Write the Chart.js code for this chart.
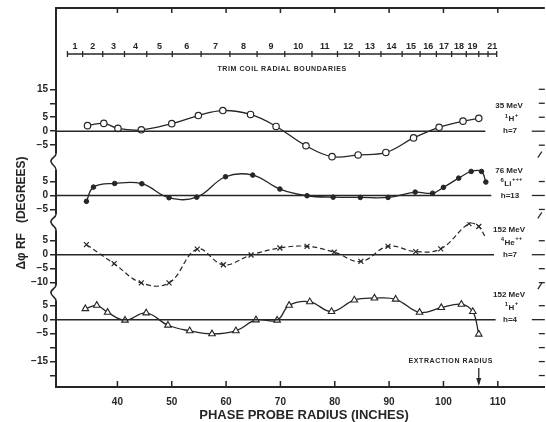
<!DOCTYPE html>
<html>
<head>
<meta charset="utf-8">
<script src="https://cdn.jsdelivr.net/npm/chart.js@4.4.1/dist/chart.umd.min.js"></script>
<style>
  html, body { margin: 0; padding: 0; background: #fff; overflow: hidden; }
  #wrap { position: relative; width: 550px; height: 422px; }
</style>
</head>
<body>
<div id="wrap"><canvas id="chart"></canvas></div>
<script>
// phase probe radius, inches
const xRange = [28.7, 118.65];
const xTicks = [40, 50, 60, 70, 80, 90, 100, 110];

// 35 MeV 1H+ h=7
const h35X = [34.5, 37.5, 40.1, 44.4, 50.0, 54.9, 59.4, 64.5, 69.2, 74.7, 79.5, 84.3, 89.4, 94.5, 99.2, 103.6, 106.5];
const h35Y = [2.0, 2.8, 1.0, 0.5, 2.7, 5.6, 7.4, 6.0, 1.7, -5.2, -9.1, -8.5, -7.6, -2.4, 1.4, 3.6, 4.6];
// 76 MeV 6Li+++ h=13
const li76X = [34.3, 35.6, 39.5, 44.5, 49.5, 54.6, 59.9, 64.9, 69.9, 74.9, 79.7, 84.7, 89.8, 94.8, 98.0, 100.0, 102.8, 105.1, 107.0, 107.8];
const li76Y = [-2.1, 3.0, 4.3, 4.2, -0.8, -0.6, 6.7, 7.3, 2.3, -0.1, -0.6, -0.7, -0.7, 1.2, 0.8, 2.9, 6.2, 8.6, 8.6, 4.8];
// 152 MeV 4He++ h=7 (last point is the end of the dashed curve, no marker)
const he152X = [34.3, 39.4, 44.4, 49.5, 54.7, 59.5, 64.6, 69.9, 74.9, 79.9, 84.8, 89.8, 94.9, 99.5, 104.7, 106.5, 107.6];
const he152Y = [3.6, -3.2, -10.1, -10.1, 2.0, -3.6, -0.1, 2.4, 3.0, 0.9, -2.4, 3.0, 1.1, 2.1, 11.1, 10.1, 6.7];
// 152 MeV 1H+ h=4
const h152X = [34.1, 36.2, 38.2, 41.4, 45.3, 49.3, 53.3, 57.4, 61.8, 65.5, 69.4, 71.6, 75.4, 79.4, 83.6, 87.3, 91.2, 95.6, 99.6, 103.3, 105.4, 106.5];
const h152Y = [3.9, 5.1, 2.6, -0.2, 2.4, -2.0, -4.0, -5.1, -4.0, -0.1, -0.2, 5.1, 6.4, 2.9, 7.0, 7.7, 7.3, 2.6, 4.3, 5.5, 2.9, -5.2];

// panels, top to bottom
const panelMin = [-10.9, -9.6, -13.75, -24.1];
const panelMax = [44.1, 12.1, 11.6, 9.5];
const panelTicks = [[15, 10, 5, 0, -5], [5, 0, -5], [5, 0, -5, -10], [5, 0, -5, -10, -15, -20]];
const panelLabels = [[15, 5, 0, -5], [5, 0, -5], [5, 0, -5, -10], [5, 0, -5, -15]];
const zeroEnd = [107.7, 108.8, 109.3, 109.6];
const energyText = ['35 MeV', '76 MeV', '152 MeV', '152 MeV'];
const ionMass = ['1', '6', '4', '1'];
const ionSym = ['H', 'Li', 'He', 'H'];
const ionCharge = ['+', '+++', '++', '+'];
const harmText = ['h=7', 'h=13', 'h=7', 'h=4'];

// trim coil radial boundaries, inches
const trimBounds = [30.8, 33.6, 37.3, 41.3, 45.4, 50.1, 55.4, 60.7, 65.7, 70.8, 75.8, 80.5, 84.5, 88.5, 92.4, 95.7, 98.7, 101.5, 104.2, 106.5, 108.2, 109.8];
const trimLabels = ['1', '2', '3', '4', '5', '6', '7', '8', '9', '10', '11', '12', '13', '14', '15', '16', '17', '18', '19', '', '21'];
const extractionRadius = 106.5;

const ink = '#262626';
const axisIds = ['yA', 'yB', 'yC', 'yD'];
const fontFam = "'Liberation Sans', Arial, sans-serif";

function fmt(v) {
  return v < 0 ? '\u2212' + Math.abs(v) : String(v);
}

function yAxis(k) {
  return {
    type: 'linear',
    position: 'left',
    stack: 'panels',
    stackWeight: panelMax[k] - panelMin[k],
    min: panelMin[k],
    max: panelMax[k],
    afterBuildTicks: s => { s.ticks = panelTicks[k].map(v => ({ value: v })); },
    afterFit: s => { s.width = 56; },
    grid: { drawOnChartArea: false, tickLength: 6, color: ink, lineWidth: 1.5 },
    border: { display: false },
    ticks: {
      autoSkip: false,
      padding: 2,
      color: ink,
      font: { family: fontFam, size: 10, weight: 'bold' },
      callback: v => panelLabels[k].includes(v) ? fmt(v) : ''
    }
  };
}

function pts(xs, ys) {
  return xs.map((x, i) => ({ x: x, y: ys[i] }));
}

function zeroLine(k) {
  return {
    type: 'line',
    yAxisID: axisIds[k],
    data: [{ x: xRange[0], y: 0 }, { x: zeroEnd[k], y: 0 }],
    borderColor: ink,
    borderWidth: 1.5,
    pointRadius: 0,
    tension: 0
  };
}

const panelPlugin = {
  id: 'panelDecor',
  afterDraw(chart) {
    const ctx = chart.ctx;
    const area = chart.chartArea;
    const xs = chart.scales.x;
    ctx.save();
    ctx.strokeStyle = ink;
    ctx.fillStyle = ink;
    ctx.lineCap = 'butt';

    // top frame and inward ticks
    ctx.lineWidth = 2;
    ctx.beginPath();
    ctx.moveTo(area.left - 1, area.top);
    ctx.lineTo(area.right, area.top);
    ctx.stroke();
    ctx.lineWidth = 1.5;
    xTicks.forEach(v => {
      const px = xs.getPixelForValue(v);
      ctx.beginPath();
      ctx.moveTo(px, area.top);
      ctx.lineTo(px, area.top + 5);
      ctx.moveTo(px, area.bottom);
      ctx.lineTo(px, area.bottom - 6);
      ctx.stroke();
    });

    // left axis segments with breaks, right edge ticks
    axisIds.forEach((id, k) => {
      const s = chart.scales[id];
      const y0 = k === 0 ? area.top : s.top + 8;
      const y1 = k === 3 ? area.bottom : s.bottom - 8;
      ctx.lineWidth = 2;
      ctx.beginPath();
      ctx.moveTo(area.left, y0 - (k === 0 ? 1 : 0));
      ctx.lineTo(area.left, y1);
      ctx.stroke();
      if (k < 3) {
        const a = s.bottom - 8, b = s.bottom + 8, m = s.bottom;
        ctx.lineWidth = 1.6;
        ctx.beginPath();
        ctx.moveTo(area.left, a);
        ctx.bezierCurveTo(area.left, a + 4, area.left - 6, m - 4, area.left - 5, m);
        ctx.bezierCurveTo(area.left - 4, m + 4, area.left, b - 4, area.left, b);
        ctx.stroke();
        ctx.lineWidth = 1.2;
        ctx.beginPath();
        ctx.moveTo(area.right - 7, m - 4);
        ctx.lineTo(area.right - 3, m - 10);
        ctx.stroke();
      }
      ctx.lineWidth = 1.3;
      panelTicks[k].forEach(v => {
        const py = s.getPixelForValue(v);
        ctx.beginPath();
        ctx.moveTo(area.right - (v === 0 ? 13 : 6), py);
        ctx.lineTo(area.right, py);
        ctx.stroke();
      });

      // run labels at right
      const z = s.getPixelForValue(0);
      const cx = 509;
      ctx.textAlign = 'center';
      ctx.textBaseline = 'middle';
      ctx.font = 'bold 8px ' + fontFam;
      ctx.fillText(energyText[k], cx, z - 25);
      ctx.fillText(harmText[k], cx + 1, z);
      // ion with superscripts
      const big = 'bold 8px ' + fontFam, small = 'bold 6px ' + fontFam;
      ctx.font = small;
      const wm = ctx.measureText(ionMass[k]).width;
      const wc = ctx.measureText(ionCharge[k]).width;
      ctx.font = big;
      const ws = ctx.measureText(ionSym[k]).width;
      let ix = cx + 2 - (wm + ws + wc) / 2;
      ctx.textAlign = 'left';
      ctx.font = small;
      ctx.fillText(ionMass[k], ix, z - 15);
      ix += wm + 0.5;
      ctx.font = big;
      ctx.fillText(ionSym[k], ix, z - 12);
      ix += ws + 0.5;
      ctx.font = small;
      ctx.fillText(ionCharge[k], ix, z - 16);
    });

    // trim coil boundaries scale
    const ty = 54;
    ctx.lineWidth = 1.3;
    ctx.beginPath();
    ctx.moveTo(xs.getPixelForValue(trimBounds[0]), ty);
    ctx.lineTo(xs.getPixelForValue(trimBounds[trimBounds.length - 1]), ty);
    ctx.stroke();
    trimBounds.forEach(v => {
      const px = xs.getPixelForValue(v);
      ctx.beginPath();
      ctx.moveTo(px, ty - 3);
      ctx.lineTo(px, ty + 3);
      ctx.stroke();
    });
    ctx.textAlign = 'center';
    ctx.textBaseline = 'middle';
    ctx.font = 'bold 9px ' + fontFam;
    trimLabels.forEach((t, i) => {
      const px = (xs.getPixelForValue(trimBounds[i]) + xs.getPixelForValue(trimBounds[i + 1])) / 2;
      ctx.fillText(t, px, ty - 7);
    });
    ctx.font = 'bold 7px ' + fontFam;
    if ('letterSpacing' in ctx) ctx.letterSpacing = '0.6px';
    ctx.fillText('TRIM COIL RADIAL BOUNDARIES', xs.getPixelForValue(70.3), 69);

    // extraction radius marker
    const ex = xs.getPixelForValue(extractionRadius);
    ctx.fillText('EXTRACTION RADIUS', ex - 28, 361);
    if ('letterSpacing' in ctx) ctx.letterSpacing = '0px';
    ctx.lineWidth = 1.3;
    ctx.beginPath();
    ctx.moveTo(ex, 368);
    ctx.lineTo(ex, 384);
    ctx.stroke();
    ctx.beginPath();
    ctx.moveTo(ex - 2.5, 378);
    ctx.lineTo(ex + 2.5, 378);
    ctx.lineTo(ex, 386);
    ctx.closePath();
    ctx.fill();

    // axis titles
    ctx.font = 'bold 13px ' + fontFam;
    ctx.fillText('PHASE PROBE RADIUS (INCHES)', 304, 415);
    ctx.save();
    ctx.translate(22, 213);
    ctx.rotate(-Math.PI / 2);
    ctx.font = 'bold 12px ' + fontFam;
    ctx.fillText('\u0394\u03c6 RF   (DEGREES)', 0, 0);
    ctx.restore();

    ctx.restore();
  }
};

new Chart(document.getElementById('chart'), {
  type: 'line',
  data: {
    datasets: [
      zeroLine(0), zeroLine(1), zeroLine(2), zeroLine(3),
      {
        label: '35 MeV',
        yAxisID: 'yA',
        data: pts(h35X, h35Y),
        borderColor: ink,
        borderWidth: 1.3,
        tension: 0.4,
        pointStyle: 'circle',
        pointRadius: 3.2,
        pointBackgroundColor: '#fff',
        pointBorderColor: ink,
        pointBorderWidth: 1.2
      },
      {
        label: '76 MeV',
        yAxisID: 'yB',
        data: pts(li76X, li76Y),
        borderColor: ink,
        borderWidth: 1.3,
        tension: 0.4,
        pointStyle: 'circle',
        pointRadius: 2.3,
        pointBackgroundColor: ink,
        pointBorderColor: ink,
        pointBorderWidth: 1
      },
      {
        label: '152 MeV He',
        yAxisID: 'yC',
        data: pts(he152X, he152Y),
        borderColor: ink,
        borderWidth: 1.2,
        borderDash: [5, 3],
        tension: 0.4,
        pointStyle: 'crossRot',
        pointRadius: ctx => ctx.dataIndex === he152X.length - 1 ? 0 : 3.5,
        pointBorderColor: ink,
        pointBorderWidth: 1.2
      },
      {
        label: '152 MeV H',
        yAxisID: 'yD',
        data: pts(h152X, h152Y),
        borderColor: ink,
        borderWidth: 1.3,
        tension: 0.4,
        pointStyle: 'triangle',
        pointRadius: 3.8,
        pointBackgroundColor: '#fff',
        pointBorderColor: ink,
        pointBorderWidth: 1.1
      }
    ]
  },
  options: {
    responsive: true,
    maintainAspectRatio: false,
    animation: false,
    layout: { padding: { top: 7, right: 2, left: 0, bottom: 0 } },
    plugins: {
      legend: { display: false },
      tooltip: { enabled: false }
    },
    scales: {
      x: {
        type: 'linear',
        min: xRange[0],
        max: xRange[1],
        afterBuildTicks: s => { s.ticks = xTicks.map(v => ({ value: v })); },
        afterFit: s => { s.height = 35; },
        grid: { display: false },
        border: { display: true, color: ink, width: 2 },
        ticks: {
          autoSkip: false,
          padding: 1,
          color: ink,
          maxRotation: 0,
          font: { family: fontFam, size: 10, weight: 'bold' }
        }
      },
      yD: yAxis(3),
      yC: yAxis(2),
      yB: yAxis(1),
      yA: yAxis(0)
    }
  },
  plugins: [panelPlugin]
});
</script>
</body>
</html>
